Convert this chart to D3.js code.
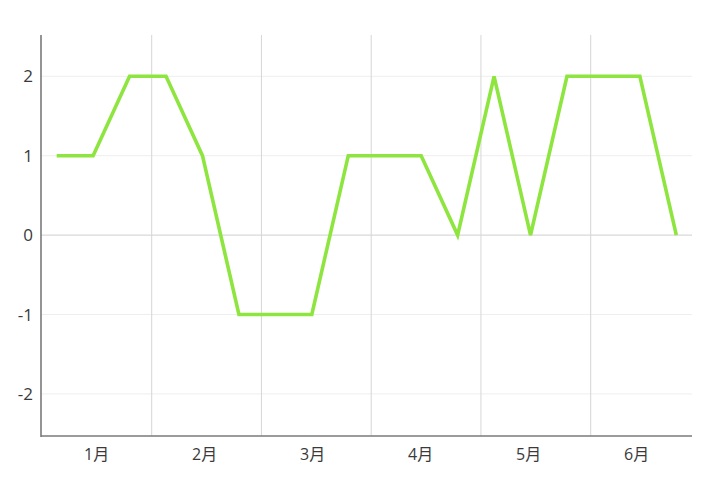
<!DOCTYPE html>
<html>
<head>
<meta charset="utf-8">
<script src="https://cdn.jsdelivr.net/npm/d3@7/dist/d3.min.js"></script>
<style>
  html, body { margin: 0; padding: 0; background: #fff; }
  svg { display: block; }
  text { font-family: "Open Sans", "Noto Sans CJK SC", sans-serif; font-weight: 400; fill: #3a3a3a; }
</style>
</head>
<body>
<svg id="chart" width="720" height="489"></svg>
<script>
const months = ["1月", "2月", "3月", "4月", "5月", "6月"];
const pointIndex = d3.range(18);
const values = [1, 1, 2, 2, 1, -1, -1, -1, 1, 1, 1, 0, 2, 0, 2, 2, 2, 0];
const yTicks = [-2, -1, 0, 1, 2];
const monthBoundaries = [1, 2, 3, 4, 5];

const svg = d3.select("#chart");
const plotLeft = 41, plotRight = 692, plotTop = 35, plotBottom = 436;

const x = d3.scalePoint().domain(pointIndex).range([plotLeft, plotRight]).padding(0.43);
const y = d3.scaleLinear().domain([-2.53, 2.52]).range([plotBottom, plotTop]);
const gridX = d3.scaleLinear().domain([1, 5]).range([151.7, 590.7]);
const labelX = d3.scaleLinear().domain([0, 5]).range([96.7, 636.7]);

// horizontal grid lines
svg.append("g").selectAll("line").data(yTicks).join("line")
  .attr("x1", plotLeft).attr("x2", plotRight)
  .attr("y1", d => y(d)).attr("y2", d => y(d))
  .attr("stroke", d => d === 0 ? "#cfcfcf" : "#eeeeee")
  .attr("stroke-width", 1);

// vertical grid lines
svg.append("g").selectAll("line").data(monthBoundaries).join("line")
  .attr("x1", d => gridX(d)).attr("x2", d => gridX(d))
  .attr("y1", plotTop).attr("y2", plotBottom)
  .attr("stroke", "#d6d6d6")
  .attr("stroke-width", 1);

// y tick labels
svg.append("g").selectAll("text").data(yTicks).join("text")
  .attr("x", 33).attr("y", d => y(d))
  .attr("dy", "0.36em")
  .attr("text-anchor", "end")
  .attr("font-size", 17)
  .text(d => d);

// x labels
svg.append("g").selectAll("text").data(months).join("text")
  .attr("x", (d, i) => labelX(i)).attr("y", 460)
  .attr("text-anchor", "middle")
  .attr("font-size", 16)
  .text(d => d);

// axes lines
svg.append("line").attr("x1", plotLeft).attr("x2", plotLeft).attr("y1", plotTop).attr("y2", plotBottom + 1)
  .attr("stroke", "#7a7a7a").attr("stroke-width", 1.6);
svg.append("line").attr("x1", plotLeft).attr("x2", plotRight).attr("y1", plotBottom).attr("y2", plotBottom)
  .attr("stroke", "#7a7a7a").attr("stroke-width", 1.6);

// data line
const line = d3.line().x((d, i) => x(i)).y(d => y(d));
svg.append("path").datum(values)
  .attr("d", line)
  .attr("fill", "none")
  .attr("stroke", "#8ee53f")
  .attr("stroke-width", 3.6)
  .attr("stroke-linejoin", "miter")
  .attr("stroke-linecap", "butt");
</script>
</body>
</html>
